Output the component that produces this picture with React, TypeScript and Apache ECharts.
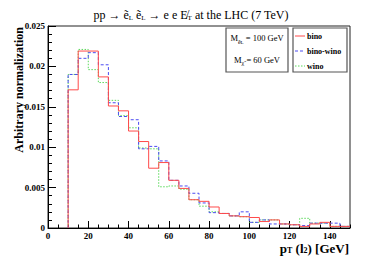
import React, { useEffect, useRef } from "react";
import * as echarts from "echarts";

const binLowEdges = [10, 15, 20, 25, 30, 35, 40, 45, 50, 55, 60, 65, 70, 75, 80, 85, 90, 95, 100, 105, 110, 115, 120, 125, 130, 135, 140, 145];
const binUpperEnd = 150;

const bino = [0.0171, 0.0219, 0.0219, 0.0187, 0.0151, 0.0145, 0.012, 0.0107, 0.0074, 0.0081, 0.0059, 0.0049, 0.0035, 0.0033, 0.0026, 0.0018, 0.0015, 0.0014, 0.0013, 0.0008, 0.001, 0.0005, 0.0004, 0.0002, 0.0005, 0.0007, 0.0002, 0.0002];
const binoWino = [0.019, 0.021, 0.0217, 0.0202, 0.0155, 0.0138, 0.0134, 0.0098, 0.0101, 0.0083, 0.0059, 0.0052, 0.0043, 0.0031, 0.0019, 0.0018, 0.0015, 0.002, 0.0007, 0.001, 0.0005, 0.0005, 0.0004, 0.0003, 0.0006, 0.0006, 0.0006, 0.0002];
const wino = [0.019, 0.0221, 0.0196, 0.018, 0.0158, 0.0139, 0.0124, 0.0099, 0.0098, 0.0051, 0.0052, 0.0048, 0.0035, 0.0027, 0.002, 0.0018, 0.0015, 0.0014, 0.0007, 0.001, 0.001, 0.0005, 0.0004, 0.0012, 0.0006, 0.0006, 0.0002, 0.0002];

const seriesNames = ["bino", "bino-wino", "wino"];
const seriesColors = ["#ff4a4a", "#4c4cf2", "#5ad85a"];
const seriesDash: any[] = ["solid", [3, 2], [1.5, 1.5]];
const xTickLabels = ["0", "20", "40", "60", "80", "100", "120", "140"];

const SERIF = "'Liberation Serif', 'DejaVu Serif', serif";

function histPoints(vals: number[]): number[][] {
  const pts: number[][] = [[binLowEdges[0], 0]];
  vals.forEach((v, i) => pts.push([binLowEdges[i], v]));
  pts.push([binUpperEnd, vals[vals.length - 1]]);
  return pts;
}

export default function App() {
  const ref = useRef<HTMLDivElement>(null);
  useEffect(() => {
    const chart = echarts.init(ref.current!, null, { renderer: "svg" });
    const sub = { fontSize: 7, fontFamily: SERIF, verticalAlign: "bottom", lineHeight: 11 };
    const allVals = [bino, binoWino, wino];
    const legendRows = [36, 51, 66];
    const legendGraphics: any[] = [
      {
        type: "rect", shape: { x: 293, y: 28, width: 54, height: 44 },
        style: { fill: "#fff", stroke: "#555", lineWidth: 1.2 }, z: 10,
      },
    ];
    seriesNames.forEach((name, i) => {
      legendGraphics.push({
        type: "line", z: 11,
        shape: { x1: 295, y1: legendRows[i], x2: 305, y2: legendRows[i] },
        style: { stroke: seriesColors[i], lineWidth: 1, lineDash: seriesDash[i] === "solid" ? null : seriesDash[i] },
      });
      legendGraphics.push({
        type: "text", x: 307, y: legendRows[i], z: 11,
        style: {
          text: name, align: "left", verticalAlign: "middle",
          fontFamily: SERIF, fontWeight: "bold", fontSize: 8, fill: "#000",
        },
      });
    });
    chart.setOption({
      animation: false,
      backgroundColor: "#fff",
      grid: { left: 48, right: 40, top: 26, bottom: 37, show: true, borderColor: "#222", borderWidth: 1 },
      xAxis: [
        {
          type: "value", min: 0, max: 150, interval: 20,
          axisLine: { show: true, lineStyle: { color: "#000", width: 1 } },
          axisTick: { show: true, inside: true, length: 7, lineStyle: { color: "#000" } },
          axisLabel: {
            show: true, margin: 3, showMaxLabel: false,
            fontFamily: SERIF, fontWeight: "bold", fontSize: 9, color: "#000",
            formatter: (v: number) => (xTickLabels.includes(String(v)) ? String(v) : ""),
          },
          splitLine: { show: false },
        },
        {
          type: "value", min: 0, max: 150, interval: 5, position: "bottom",
          axisLine: { show: false },
          axisTick: { show: true, inside: true, length: 3.5, lineStyle: { color: "#000" } },
          axisLabel: { show: false },
          splitLine: { show: false },
        },
      ],
      yAxis: {
        type: "value", min: 0, max: 0.025, interval: 0.005,
        axisLine: { show: true, lineStyle: { color: "#000", width: 1 } },
        axisTick: { show: true, inside: true, length: 8, lineStyle: { color: "#000" } },
        minorTick: { show: true, splitNumber: 5, length: 4, lineStyle: { color: "#000" } },
        axisLabel: {
          margin: 3, fontFamily: SERIF, fontWeight: "bold", fontSize: 9, color: "#000",
          formatter: (v: number) => String(+v.toFixed(3)),
        },
        splitLine: { show: false },
        minorSplitLine: { show: false },
      },
      series: allVals.map((vals, i) => ({
        name: seriesNames[i], type: "line", step: "end", symbol: "none",
        data: histPoints(vals),
        lineStyle: { color: seriesColors[i], width: 1, type: seriesDash[i] },
        itemStyle: { color: seriesColors[i] }, z: 3 - i,
      })),
      graphic: [
        {
          type: "text", x: 191, y: 15,
          style: {
            text: "pp → ẽ{sub|L} ẽ{sub|L} → e e E̸{sub|T} at the LHC (7 TeV)",
            align: "center", verticalAlign: "middle",
            fontFamily: SERIF, fontSize: 12, fill: "#000",
            rich: { sub },
          },
        },
        {
          type: "text", x: 19, y: 27, rotation: Math.PI / 2,
          style: {
            text: "Arbitrary normalization", align: "right", verticalAlign: "middle",
            fontFamily: SERIF, fontWeight: "bold", fontSize: 12, fill: "#000",
          },
        },
        {
          type: "text", x: 349, y: 248,
          style: {
            text: "p{bs|T} (l{bs|2}) [GeV]", align: "right", verticalAlign: "middle",
            fontFamily: SERIF, fontWeight: "bold", fontSize: 13, fill: "#000",
            rich: { bs: { fontSize: 8, fontWeight: "bold", fontFamily: SERIF, verticalAlign: "bottom", lineHeight: 13 } },
          },
        },
        {
          type: "rect", shape: { x: 226, y: 28, width: 62, height: 44 },
          style: { fill: "#fff", stroke: "#555", lineWidth: 1.2 }, z: 10,
        },
        {
          type: "text", x: 257, y: 38, z: 11,
          style: {
            text: "M{s|ẽ}{s2|L} = 100 GeV", align: "center", verticalAlign: "middle",
            fontFamily: SERIF, fontSize: 8.5, fill: "#000",
            rich: {
              s: { fontSize: 6, fontFamily: SERIF, verticalAlign: "bottom", lineHeight: 12 },
              s2: { fontSize: 5, fontFamily: SERIF, verticalAlign: "bottom", lineHeight: 14 },
            },
          },
        },
        {
          type: "text", x: 257, y: 60, z: 11,
          style: {
            text: "M{s|χ̃} = 60 GeV", align: "center", verticalAlign: "middle",
            fontFamily: SERIF, fontSize: 8.5, fill: "#000",
            rich: { s: { fontSize: 6, fontFamily: SERIF, verticalAlign: "bottom", lineHeight: 12 } },
          },
        },
        ...legendGraphics,
      ],
    });
    return () => chart.dispose();
  }, []);
  return <div ref={ref} style={{ position: "fixed", left: 0, top: 0, width: 390, height: 265 }} />;
}
